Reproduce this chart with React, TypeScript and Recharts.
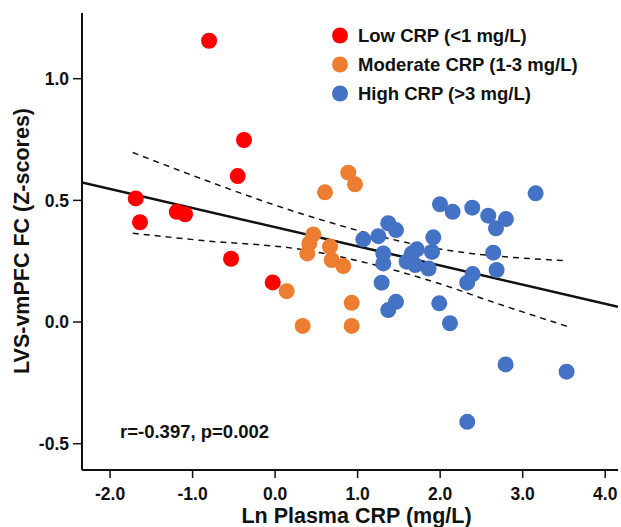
import { ComposedChart, Scatter, Line, XAxis, YAxis, Legend } from 'recharts'

// values
const lowCrp = [
  { x: -0.8, y: 1.156 },
  { x: -0.377, y: 0.748 },
  { x: -0.453, y: 0.6 },
  { x: -1.689, y: 0.508 },
  { x: -1.637, y: 0.41 },
  { x: -1.192, y: 0.453 },
  { x: -1.091, y: 0.443 },
  { x: -0.534, y: 0.26 },
  { x: -0.029, y: 0.163 },
]

const moderateCrp = [
  { x: 0.14, y: 0.127 },
  { x: 0.887, y: 0.614 },
  { x: 0.968, y: 0.566 },
  { x: 0.604, y: 0.533 },
  { x: 0.463, y: 0.36 },
  { x: 0.414, y: 0.323 },
  { x: 0.39, y: 0.282 },
  { x: 0.665, y: 0.31 },
  { x: 0.686, y: 0.255 },
  { x: 0.826, y: 0.23 },
  { x: 0.928, y: 0.079 },
  { x: 0.928, y: -0.016 },
  { x: 0.334, y: -0.016 },
]

const highCrp = [
  { x: 1.998, y: 0.484 },
  { x: 1.371, y: 0.406 },
  { x: 1.465, y: 0.378 },
  { x: 1.251, y: 0.353 },
  { x: 1.069, y: 0.34 },
  { x: 1.917, y: 0.348 },
  { x: 1.311, y: 0.282 },
  { x: 1.311, y: 0.241 },
  { x: 1.291, y: 0.162 },
  { x: 1.465, y: 0.083 },
  { x: 1.371, y: 0.049 },
  { x: 1.989, y: 0.077 },
  { x: 2.119, y: -0.005 },
  { x: 3.157, y: 0.529 },
  { x: 2.151, y: 0.453 },
  { x: 2.389, y: 0.47 },
  { x: 2.583, y: 0.437 },
  { x: 2.797, y: 0.423 },
  { x: 2.676, y: 0.385 },
  { x: 2.643, y: 0.285 },
  { x: 2.684, y: 0.214 },
  { x: 2.394, y: 0.197 },
  { x: 2.328, y: 0.162 },
  { x: 2.793, y: -0.174 },
  { x: 3.532, y: -0.204 },
  { x: 2.328, y: -0.41 },
  { x: 1.594, y: 0.248 },
  { x: 1.657, y: 0.282 },
  { x: 1.718, y: 0.299 },
  { x: 1.698, y: 0.234 },
  { x: 1.86, y: 0.22 },
  { x: 1.901, y: 0.288 },
]

const fitLine = [
  { x: -2.34, y: 0.574 },
  { x: 4.155, y: 0.063 },
]

const upperBand = [
  { x: -1.725, y: 0.697 },
  { x: -0.91, y: 0.591 },
  { x: 0.302, y: 0.447 },
  { x: 1.876, y: 0.307 },
  { x: 3.532, y: 0.252 },
]

const lowerBand = [
  { x: -1.725, y: 0.365 },
  { x: -0.91, y: 0.336 },
  { x: 0.302, y: 0.299 },
  { x: 1.917, y: 0.166 },
  { x: 2.684, y: 0.077 },
  { x: 3.552, y: -0.019 },
]

const xTicks = [-2, -1, 0, 1, 2, 3, 4]
const yTicks = [-0.5, 0, 0.5, 1]

const groups = [
  { name: 'Low CRP (<1 mg/L)', color: '#ff0000', data: lowCrp },
  { name: 'Moderate CRP (1-3 mg/L)', color: '#ed7d31', data: moderateCrp },
  { name: 'High CRP (>3 mg/L)', color: '#4472c4', data: highCrp },
]

const FONT = '"Liberation Sans", Arial, sans-serif'
const INK = '#111'

const dot = (color: string) => (props: any) => (
  <circle cx={props.cx} cy={props.cy} r={8} fill={color} />
)

function LegendBox() {
  return (
    <svg width={290} height={90} style={{ display: 'block' }}>
      {groups.map((g, i) => (
        <g key={g.name}>
          <circle cx={10} cy={15.5 + i * 29} r={8} fill={g.color} />
          <text x={28} y={22 + i * 29} fontSize={18.5} fontWeight="bold" fill={INK} fontFamily={FONT}>
            {g.name}
          </text>
        </g>
      ))}
    </svg>
  )
}

export default function App() {
  return (
    <div style={{ position: 'absolute', left: 0, top: 0, width: 621, height: 527, background: '#fff', fontFamily: FONT }}>
      <ComposedChart width={621} height={527} margin={{ top: 13, right: 3, bottom: 0, left: 0 }}>
        <XAxis
          dataKey="x"
          type="number"
          domain={[-2.34, 4.155]}
          ticks={xTicks}
          interval={0}
          allowDataOverflow
          height={57}
          tickFormatter={(v: number) => v.toFixed(1)}
          axisLine={{ stroke: INK, strokeWidth: 2 }}
          tickLine={{ stroke: INK, strokeWidth: 1.5 }}
          tickSize={8}
          tickMargin={10}
          tick={{ fill: INK, fontSize: 17.5, fontWeight: 'bold', fontFamily: FONT }}
        />
        <YAxis
          dataKey="y"
          type="number"
          domain={[-0.608, 1.27]}
          ticks={yTicks}
          interval={0}
          allowDataOverflow
          width={82}
          tickFormatter={(v: number) => v.toFixed(1)}
          axisLine={{ stroke: INK, strokeWidth: 2 }}
          tickLine={{ stroke: INK, strokeWidth: 1.5 }}
          tickSize={9}
          tickMargin={4}
          tick={{ fill: INK, fontSize: 17.5, fontWeight: 'bold', fontFamily: FONT }}
        />
        <Legend
          layout="vertical"
          align="center"
          verticalAlign="middle"
          wrapperStyle={{ position: 'absolute', left: 330, top: 20, width: 290, height: 90 }}
          content={() => <LegendBox />}
        />
        {groups.map((g) => (
          <Scatter key={g.name} name={g.name} data={g.data} fill={g.color} shape={dot(g.color)} isAnimationActive={false} />
        ))}
        <Line data={upperBand} dataKey="y" type="monotone" stroke={INK} strokeWidth={1.5} strokeDasharray="6 5" dot={false} activeDot={false} isAnimationActive={false} legendType="none" />
        <Line data={lowerBand} dataKey="y" type="monotone" stroke={INK} strokeWidth={1.5} strokeDasharray="6 5" dot={false} activeDot={false} isAnimationActive={false} legendType="none" />
        <Line data={fitLine} dataKey="y" type="linear" stroke={INK} strokeWidth={2.5} dot={false} activeDot={false} isAnimationActive={false} legendType="none" />
      </ComposedChart>
      <svg width={621} height={527} style={{ position: 'absolute', left: 0, top: 0, pointerEvents: 'none' }}>
        <text x={120} y={438} fontSize={18.5} fontWeight="bold" fill={INK} fontFamily={FONT}>
          r=-0.397, p=0.002
        </text>
        <text x={356.5} y={523} textAnchor="middle" fontSize={21.5} fontWeight="bold" fill={INK} fontFamily={FONT}>
          Ln Plasma CRP (mg/L)
        </text>
        <text
          x={29}
          y={241}
          transform="rotate(-90, 29, 241)"
          textAnchor="middle"
          fontSize={21.5}
          fontWeight="bold"
          fill={INK}
          fontFamily={FONT}
        >
          LVS-vmPFC FC (Z-scores)
        </text>
      </svg>
    </div>
  )
}
